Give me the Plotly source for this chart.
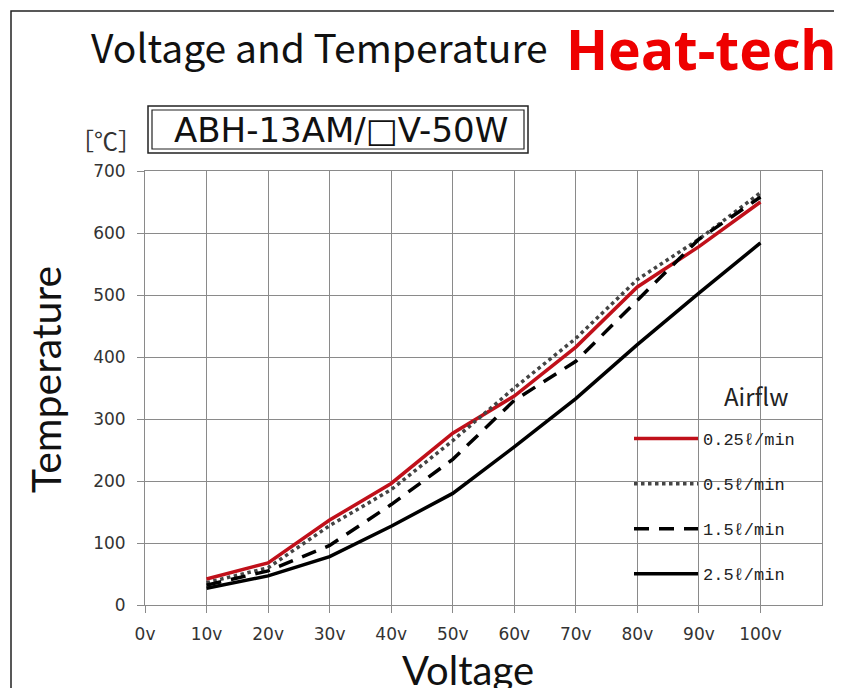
import plotly.graph_objects as go

# ---- data ----
voltage = [10, 20, 30, 40, 50, 60, 70, 80, 90, 100]
tick_vals = [0, 10, 20, 30, 40, 50, 60, 70, 80, 90, 100]
tick_text = ["0v", "10v", "20v", "30v", "40v", "50v", "60v", "70v", "80v", "90v", "100v"]

temp_025 = [42, 68, 137, 196, 277, 337, 416, 513, 578, 650]
temp_05 = [36, 60, 128, 186, 265, 350, 430, 525, 590, 665]
temp_15 = [32, 55, 96, 162, 235, 330, 393, 492, 590, 658]
temp_25 = [27, 47, 78, 127, 180, 255, 333, 420, 503, 584]

series_names = ["0.25ℓ/min", "0.5ℓ/min", "1.5ℓ/min", "2.5ℓ/min"]
series_vals = [temp_025, temp_05, temp_15, temp_25]
series_styles = [
    dict(color="#C0101A", width=3.5, dash="solid"),
    dict(color="#444444", width=3.5, dash="dot"),
    dict(color="#000000", width=3.5, dash="15px,10px"),
    dict(color="#000000", width=3.5, dash="solid"),
]

# ---- geometry (page pixels; page has an 8px body offset) ----
W, H = 842, 688
OFF = 8
L, R, T, B = 145, 822, 171, 605


def px(x):
    return (x - L) / (R - L)


def py(y):
    return (B - y) / (B - T)


fig = go.Figure()
for i, (name, vals, st) in enumerate(zip(series_names, series_vals, series_styles)):
    fig.add_trace(go.Scatter(
        x=voltage, y=vals, mode="lines", name=name,
        line=st, legendgroup=f"g{i}",
    ))

grid = "#8a8a8a"
tickfont = dict(family="DejaVu Sans, sans-serif", size=17, color="#333")
fig.update_layout(
    width=W, height=H,
    margin=dict(l=L - OFF, r=W - (R - OFF), t=T - OFF, b=H - (B - OFF)),
    paper_bgcolor="white", plot_bgcolor="white",
    showlegend=True,
    legend=dict(
        x=px(629), y=py(421), xanchor="left", yanchor="top",
        bgcolor="rgba(0,0,0,0)",
        font=dict(family="Liberation Mono, DejaVu Sans Mono, monospace", size=17, color="#222"),
        itemwidth=64, tracegroupgap=20,
    ),
    xaxis=dict(
        range=[0, 110], tickmode="array", tickvals=tick_vals, ticktext=tick_text,
        showgrid=True, gridcolor=grid, gridwidth=1,
        showline=True, linecolor=grid, linewidth=1, mirror=True,
        ticks="outside", ticklen=7, tickcolor=grid,
        tickfont=tickfont, ticklabelstandoff=7,
        zeroline=False,
    ),
    yaxis=dict(
        range=[0, 700], dtick=100, tick0=0,
        showgrid=True, gridcolor=grid, gridwidth=1,
        showline=True, linecolor=grid, linewidth=1, mirror=True,
        ticks="outside", ticklen=7, tickcolor=grid,
        tickfont=tickfont, ticklabelstandoff=8,
        zeroline=False,
    ),
)

# outer frame (extends past the right/bottom edge)
fig.add_shape(type="rect", xref="paper", yref="paper",
              x0=px(11), x1=px(870), y0=py(710), y1=py(11),
              line=dict(color="#222", width=1.5), layer="below")

# double-bordered model box
fig.add_shape(type="rect", xref="paper", yref="paper",
              x0=px(148), x1=px(528), y0=py(153), y1=py(106),
              line=dict(color="#222", width=1.5))
fig.add_shape(type="rect", xref="paper", yref="paper",
              x0=px(152), x1=px(524), y0=py(149), y1=py(110),
              line=dict(color="#222", width=1.2))

annotations = [
    dict(text="Voltage and Temperature", x=px(89), y=py(46), xanchor="left", yanchor="middle",
         font=dict(family="Noto Sans CJK JP, DejaVu Sans, sans-serif", size=39, color="#111")),
    dict(text="<b>Heat-tech</b>", x=px(838), y=py(48), xanchor="right", yanchor="middle",
         font=dict(family="Noto Sans, Open Sans, sans-serif", size=55, color="#EE0000")),
    dict(text="ABH-13AM/□V-50W", x=px(341), y=py(130), xanchor="center", yanchor="middle",
         font=dict(family="DejaVu Sans, sans-serif", size=34, color="#111")),
    dict(text="［℃］", x=px(106), y=py(139), xanchor="center", yanchor="middle",
         font=dict(family="Noto Sans CJK JP, DejaVu Sans, sans-serif", size=24, color="#333")),
    dict(text="Airflw", x=px(756), y=py(395), xanchor="center", yanchor="middle",
         font=dict(family="Noto Sans CJK JP, DejaVu Sans, sans-serif", size=24, color="#222")),
    # axis titles
    dict(text="Voltage", x=px(468), y=py(644), xanchor="center", yanchor="top",
         font=dict(family="Lato, Open Sans, sans-serif", size=40, color="#111")),
    dict(text="Temperature", x=px(45), y=py(380), xanchor="center", yanchor="middle", textangle=-90,
         font=dict(family="Lato, Open Sans, sans-serif", size=41, color="#111")),
]
for a in annotations:
    a.update(xref="paper", yref="paper", showarrow=False)
    fig.add_annotation(**a)

fig.write_html("out.html")
